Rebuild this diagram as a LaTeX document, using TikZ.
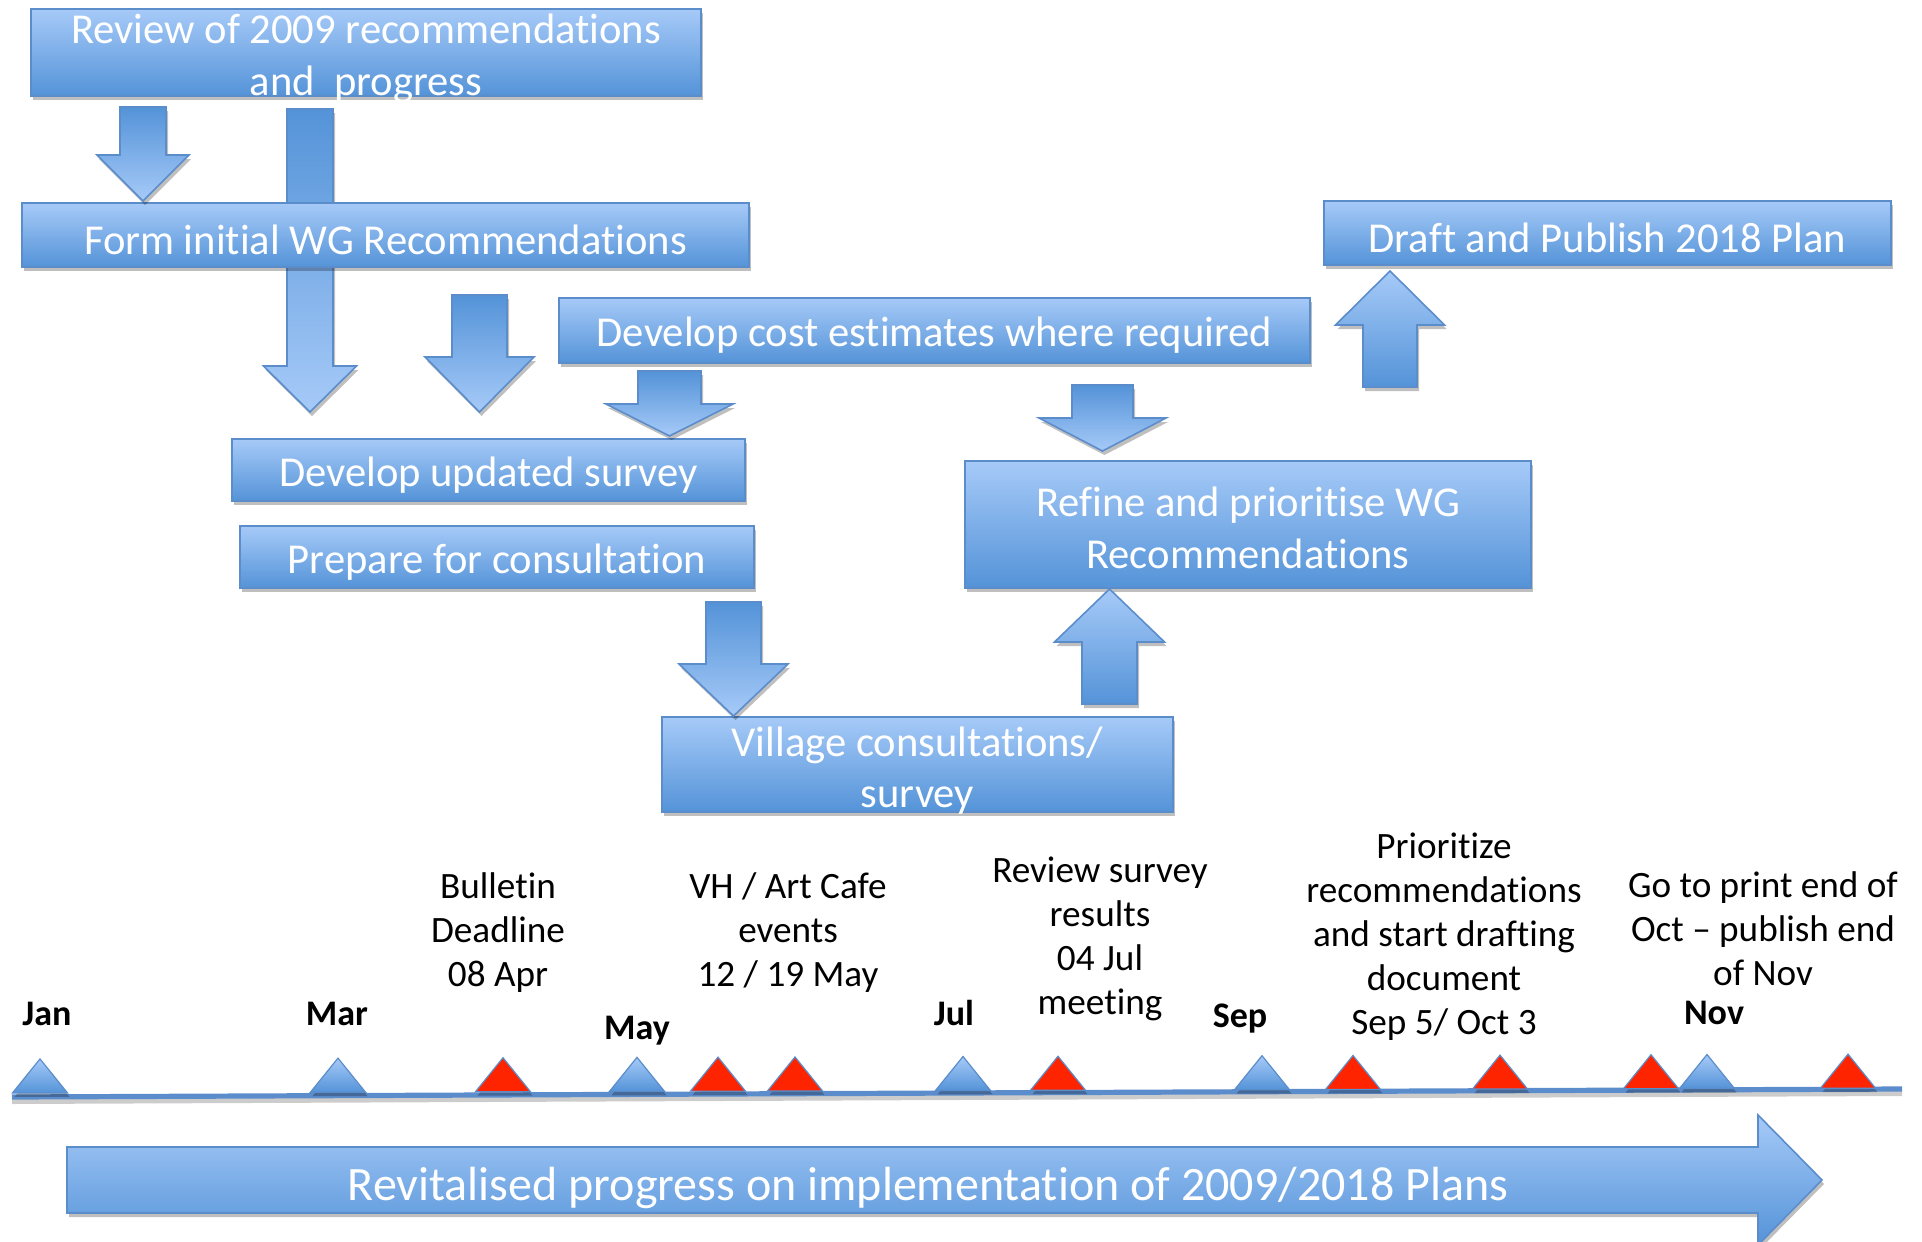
\documentclass[tikz,border=0pt]{standalone}
\usepackage{fontspec}
\setmainfont{Carlito}[Ligatures={NoCommon,NoContextual},Contextuals=NoAlternate]
\usetikzlibrary{shadows}

\definecolor{boxtop}{HTML}{A6CAF8}
\definecolor{boxbot}{HTML}{5493D8}
\definecolor{boxline}{HTML}{5C8DCB}
\definecolor{alertred}{HTML}{FF2400}
\definecolor{lineblue}{HTML}{5B8CCB}

\tikzset{
  softshadow/.style={drop shadow={shadow xshift=1pt, shadow yshift=-2pt, opacity=0.25, fill=black}},
  boxtext/.style={text=white, inner sep=0pt, align=center, font=\fontsize{21.3}{25.8}\selectfont},
  stepbox/.style={draw=boxline, line width=0.8pt, top color=boxtop, bottom color=boxbot,
    boxtext, execute at begin node=\rule{0pt}{19.5pt}, softshadow},
  darrow/.style={draw=boxline, line width=0.8pt, top color=boxbot, bottom color=boxtop, softshadow},
  uarrow/.style={draw=boxline, line width=0.8pt, top color=boxtop, bottom color=boxbot, softshadow},
  mk blue/.style={draw=boxline, line width=0.6pt, top color=boxtop, bottom color=boxbot, softshadow},
  mk red/.style={draw=boxline, line width=0.6pt, fill=alertred, softshadow},
  event/.style={align=center, font=\fontsize{18.6}{22}\selectfont},
  month/.style={anchor=base, font=\bfseries\fontsize{18}{22}\selectfont},
}

% block arrow: style, x, tail y, head y, tip y, shaft half width, head half width
\newcommand{\blkarrow}[7]{%
  \path[#1] ({#2-#6},#3) -- ({#2-#6},#4) -- ({#2-#7},#4) -- (#2,#5)
    -- ({#2+#7},#4) -- ({#2+#6},#4) -- ({#2+#6},#3) -- cycle;}

\begin{document}
\begin{tikzpicture}[x=0.5pt, y=-0.5pt]
  \useasboundingbox (0,0) rectangle (1922,1242);

  % long arrow behind the first box
  \blkarrow{darrow}{310}{109}{366}{412}{23}{46.5}

  % process boxes
  \node [stepbox, minimum width=335pt, minimum height=43.5pt] (review) at (366,52.5) {};
  \node [boxtext] (review text) at ([yshift=-3pt]review.center)
    {Review of 2009 recommendations\\and\ \ progress};
  \node [stepbox, minimum width=363.5pt, minimum height=32pt] (form) at (385.5,235)
    {Form initial WG Recommendations};
  \node [stepbox, minimum width=375.5pt, minimum height=32.5pt] (cost) at (934.5,330.5)
    {Develop cost estimates where required};
  \node [stepbox, minimum width=256.5pt, minimum height=31pt] (survey) at (488.5,470)
    {Develop updated survey};
  \node [stepbox, minimum width=257pt, minimum height=31pt] (prep) at (497,557)
    {Prepare for consultation};
  \node [stepbox, minimum width=255.5pt, minimum height=47.5pt] (village) at (917.5,764.5) {};
  \node [boxtext] (village text) at ([yshift=-3pt]village.center)
    {Village consultations/\\survey};
  \node [stepbox, minimum width=283pt, minimum height=63.5pt] (refine) at (1248,524.5) {};
  \node [boxtext] (refine text) at ([yshift=-1.8pt]refine.center)
    {Refine and prioritise WG\\Recommendations};
  \node [stepbox, minimum width=283.5pt, minimum height=32pt] (draft) at (1607.5,233)
    {Draft and Publish 2018 Plan};

  % block arrows
  \blkarrow{darrow}{143}{107}{155}{201}{23}{46}
  \blkarrow{darrow}{479.5}{295}{357}{412}{27.5}{54.5}
  \blkarrow{darrow}{669.5}{371}{404}{436}{31.5}{63.5}
  \blkarrow{darrow}{733.5}{602}{664}{716}{27.5}{54.5}
  \blkarrow{uarrow}{1109.5}{704}{642}{589}{27.5}{55}
  \blkarrow{darrow}{1102.5}{385}{418}{451}{30.5}{63.5}
  \blkarrow{uarrow}{1390}{387}{325}{271}{27}{54.5}

  % time line
  \coordinate (tl start) at (12,1097);
  \coordinate (tl end) at (1902,1089);
  \draw [black, opacity=0.2, line width=3pt] ([yshift=-2pt]tl start) -- ([yshift=-2pt]tl end);
  \draw [lineblue, line width=2.6pt] (tl start) -- (tl end);

  \foreach \x in {40,338,637,963,1262,1707} {
    \pgfmathsetmacro\yb{1093-5*(\x-12)/1890}
    \path [mk blue] ({\x-27.5},\yb) -- (\x,{\yb-34}) -- ({\x+27.5},\yb) -- cycle;
  }
  \foreach \x in {503,718,795,1058,1353,1500,1651,1848} {
    \pgfmathsetmacro\yb{1093-5*(\x-12)/1890}
    \path [mk red] ({\x-27.5},\yb) -- (\x,{\yb-34}) -- ({\x+27.5},\yb) -- cycle;
  }

  % months
  \node [month] (jan) at (47,1025) {Jan};
  \node [month] (mar) at (337,1025) {Mar};
  \node [month] (may) at (637,1039) {May};
  \node [month] (jul) at (954,1025) {Jul};
  \node [month] (sep) at (1240,1027) {Sep};
  \node [month] (nov) at (1714,1024) {Nov};

  % events
  \node [event] (bulletin) at (498,933) {Bulletin\\Deadline\\08 Apr};
  \node [event] (cafe) at (788,933) {VH / Art Cafe\\events\\12 / 19 May};
  \node [event] (results) at (1100,939) {Review survey\\results\\04 Jul\\meeting};
  \node [event] (prioritize) at (1444,937)
    {Prioritize\\recommendations\\and start drafting\\document\\Sep 5/ Oct 3};
  \node [event] (print) at (1763,929) {Go to print end of\\Oct -- publish end\\of Nov};

  % progress arrow
  \path [uarrow] (67,1147) -- (1758,1147) -- (1758,1115) -- (1822,1180)
    -- (1758,1245) -- (1758,1213) -- (67,1213) -- cycle;
  \node [text=white, font=\fontsize{24}{28}\selectfont] (revital) at (928,1188)
    {Revitalised progress on implementation of 2009/2018 Plans};
\end{tikzpicture}
\end{document}
